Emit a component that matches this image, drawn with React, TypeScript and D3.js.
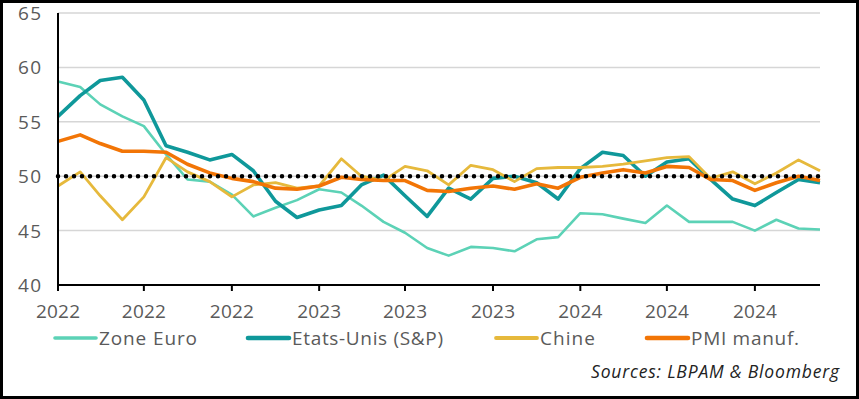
import { line, scaleLinear, scaleTime, timeMonth, timeFormat } from "d3";

// PMI manufacturier, mensuel janv. 2022 -> déc. 2024
const zoneEuro = [
    58.7, 58.2, 56.6, 55.5, 54.6, 52.0, 49.7, 49.5, 48.3, 46.3, 47.1, 47.8,
    48.8, 48.5, 47.3, 45.8, 44.8, 43.4, 42.7, 43.5, 43.4, 43.1, 44.2, 44.4,
    46.6, 46.5, 46.1, 45.7, 47.3, 45.8, 45.8, 45.8, 45.0, 46.0, 45.2, 45.1,
];
const etatsUnis = [
    55.5, 57.4, 58.8, 59.1, 57.0, 52.8, 52.2, 51.5, 52.0, 50.5, 47.7, 46.2,
    46.9, 47.3, 49.2, 50.1, 48.2, 46.3, 48.9, 47.9, 49.8, 50.0, 49.4, 47.9,
    50.7, 52.2, 51.9, 50.0, 51.3, 51.6, 49.7, 47.9, 47.3, 48.5, 49.7, 49.4,
];
const chine = [
    49.1, 50.4, 48.2, 46.0, 48.1, 51.7, 50.4, 49.5, 48.1, 49.2, 49.4, 48.9,
    49.1, 51.6, 50.0, 49.6, 50.9, 50.5, 49.2, 51.0, 50.6, 49.5, 50.7, 50.8,
    50.8, 50.9, 51.1, 51.4, 51.7, 51.8, 49.8, 50.4, 49.3, 50.3, 51.5, 50.5,
];
const pmiManuf = [
    53.2, 53.8, 53.0, 52.3, 52.3, 52.2, 51.1, 50.3, 49.8, 49.5, 48.9, 48.8,
    49.1, 49.9, 49.7, 49.6, 49.6, 48.7, 48.6, 48.9, 49.1, 48.8, 49.3, 48.9,
    49.9, 50.3, 50.6, 50.3, 50.9, 50.8, 49.7, 49.6, 48.7, 49.4, 50.0, 49.6,
];
const yTicks = [40, 45, 50, 55, 60, 65];

const months = timeMonth.range(new Date(2022, 0, 1), new Date(2025, 0, 1));

const series = [
    { name: "Zone Euro", values: zoneEuro, color: "#5cd2b6", width: 2.6 },
    { name: "Etats-Unis (S&P)", values: etatsUnis, color: "#0f989a", width: 3.6 },
    { name: "Chine", values: chine, color: "#e6b93c", width: 2.8 },
    { name: "PMI manuf.", values: pmiManuf, color: "#f27506", width: 3.6 },
];
const legendX = [55, 248, 496, 647];
const legendTextW = [98, 151, 55, 108];

const W = 859;
const H = 399;
const left = 58;
const right = 820;
const top = 13;
const bottom = 285;
const font = "'Open Sans', 'DejaVu Sans', sans-serif";
const grey = "#5a5a5a";

export default function App() {
    const x = scaleTime()
        .domain([months[0], months[months.length - 1]])
        .range([left, right]);
    const y = scaleLinear().domain([40, 65]).range([bottom, top]);
    const xTicks = x.ticks(timeMonth.every(4));
    const fmt = timeFormat("%Y");

    const path = (vals: number[]) =>
        line<number>()
            .x((_, i) => x(months[i]))
            .y((d) => y(d))(vals);

    return (
        <svg
            width={W}
            height={H}
            style={{ position: "absolute", left: 0, top: 0, background: "#fff" }}
        >
            <rect x={0} y={0} width={W} height={H} fill="#fff" />
            {/* grille */}
            {yTicks
                .filter((t) => t > 40)
                .map((t) => (
                    <line
                        key={t}
                        x1={left}
                        x2={right}
                        y1={y(t)}
                        y2={y(t)}
                        stroke="#d6d6d6"
                        strokeWidth={1.5}
                    />
                ))}
            {yTicks.map((t) => (
                <text
                    key={t}
                    x={41}
                    y={y(t)}
                    textAnchor="end"
                    dominantBaseline="central"
                    fontFamily={font}
                    fontSize={19}
                    fill={grey}
                    textLength={23}
                >
                    {t}
                </text>
            ))}

            {series.map((s) => (
                <path
                    key={s.name}
                    d={path(s.values) ?? ""}
                    fill="none"
                    stroke={s.color}
                    strokeWidth={s.width}
                    strokeLinejoin="round"
                />
            ))}

            {/* seuil 50 */}
            <line
                x1={left}
                x2={right}
                y1={y(50)}
                y2={y(50)}
                stroke="#000"
                strokeWidth={4.5}
                strokeDasharray="0 8"
                strokeLinecap="round"
            />

            {/* axes */}
            <line x1={left} x2={left} y1={top} y2={bottom} stroke="#000" strokeWidth={2} />
            <line x1={left} x2={right} y1={bottom} y2={bottom} stroke="#000" strokeWidth={2} />
            {xTicks.map((t, i) => (
                <g key={i} transform={`translate(${x(t)},0)`}>
                    <line y1={bottom} y2={bottom + 6} stroke="#000" strokeWidth={2} />
                    <text
                        y={311}
                        textAnchor="middle"
                        dominantBaseline="central"
                        fontFamily={font}
                        fontSize={19}
                        fill={grey}
                        textLength={44}
                    >
                        {fmt(t)}
                    </text>
                </g>
            ))}

            {/* légende */}
            {series.map((s, i) => (
                <g key={s.name} transform={`translate(${legendX[i]},338)`}>
                    <line
                        x1={0}
                        x2={41}
                        stroke={s.color}
                        strokeWidth={s.width + 1}
                        strokeLinecap="round"
                    />
                    <text
                        x={44}
                        dominantBaseline="central"
                        fontFamily={font}
                        fontSize={19}
                        fill={grey}
                        textLength={legendTextW[i]}
                    >
                        {s.name}
                    </text>
                </g>
            ))}

            <text
                x={839}
                y={371}
                textAnchor="end"
                dominantBaseline="central"
                fontFamily={font}
                fontStyle="italic"
                fontSize={17.5}
                fill="#222"
                textLength={248}
            >
                Sources: LBPAM &amp; Bloomberg
            </text>

            <rect
                x={1.5}
                y={1.5}
                width={W - 3}
                height={H - 3}
                fill="none"
                stroke="#000"
                strokeWidth={3}
            />
        </svg>
    );
}
